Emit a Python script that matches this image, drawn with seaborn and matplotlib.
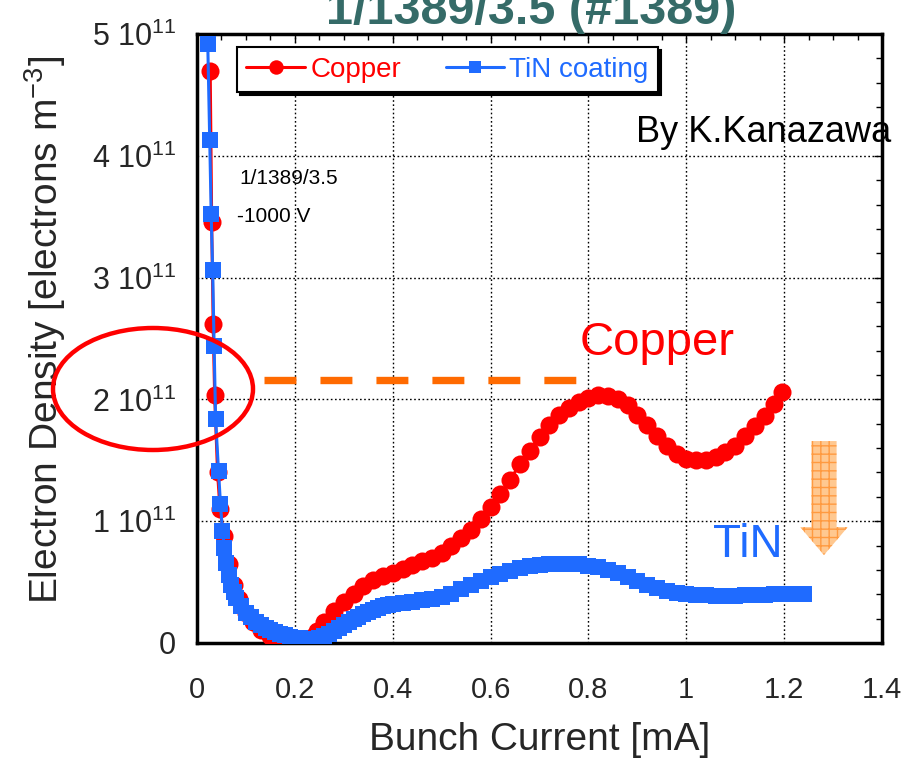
import matplotlib
matplotlib.use("Agg")
import matplotlib.pyplot as plt
import pandas as pd
import seaborn as sns
from matplotlib.patches import Ellipse, FancyArrow
from matplotlib.ticker import MultipleLocator

# ---- measured electron density vs bunch current (density in units of 1e11 m^-3) ----
copper_current = [0.027, 0.030, 0.033, 0.036, 0.042, 0.047, 0.055, 0.065, 0.075, 0.085,
                  0.100, 0.115, 0.130, 0.150, 0.170, 0.190, 0.210, 0.230, 0.245, 0.260,
                  0.280, 0.300, 0.320, 0.340, 0.360, 0.380, 0.400, 0.420, 0.440, 0.460,
                  0.480, 0.500, 0.520, 0.540, 0.560, 0.580, 0.600, 0.620, 0.640, 0.660,
                  0.680, 0.700, 0.720, 0.740, 0.760, 0.780, 0.800, 0.820, 0.840, 0.860,
                  0.880, 0.900, 0.920, 0.940, 0.960, 0.980, 1.000, 1.020, 1.040, 1.060,
                  1.080, 1.100, 1.120, 1.140, 1.160, 1.180, 1.195]
copper_density = [4.70, 3.46, 2.62, 2.04, 1.40, 1.10, 0.88, 0.65, 0.48, 0.36,
                  0.25, 0.17, 0.11, 0.06, 0.03, 0.02, 0.02, 0.04, 0.10, 0.17,
                  0.26, 0.34, 0.40, 0.47, 0.52, 0.55, 0.575, 0.61, 0.64, 0.67,
                  0.70, 0.74, 0.80, 0.86, 0.93, 1.02, 1.12, 1.22, 1.34, 1.47,
                  1.58, 1.69, 1.79, 1.87, 1.93, 1.98, 2.01, 2.04, 2.03, 2.00,
                  1.95, 1.87, 1.79, 1.70, 1.62, 1.55, 1.51, 1.50, 1.50, 1.53,
                  1.57, 1.62, 1.70, 1.78, 1.86, 1.96, 2.06]

tin_current = [0.022, 0.026, 0.029, 0.032, 0.035, 0.038, 0.044, 0.048, 0.052, 0.056,
               0.060, 0.065, 0.070, 0.075, 0.080, 0.090, 0.100, 0.110, 0.120, 0.130,
               0.140, 0.150, 0.160, 0.170, 0.180, 0.190, 0.200, 0.210, 0.220, 0.230,
               0.240, 0.250, 0.260, 0.270, 0.280, 0.290, 0.300, 0.310, 0.320, 0.330,
               0.340, 0.350, 0.360, 0.370, 0.380, 0.390, 0.400, 0.420, 0.440, 0.460,
               0.480, 0.500, 0.520, 0.540, 0.560, 0.580, 0.600, 0.620, 0.640, 0.660,
               0.680, 0.700, 0.720, 0.740, 0.760, 0.780, 0.800, 0.820, 0.840, 0.860,
               0.880, 0.900, 0.920, 0.940, 0.960, 0.980, 1.000, 1.020, 1.040, 1.060,
               1.080, 1.100, 1.120, 1.140, 1.160, 1.180, 1.200, 1.220, 1.240]
tin_density = [4.92, 4.13, 3.52, 3.06, 2.44, 1.84, 1.41, 1.14, 0.92, 0.78,
               0.66, 0.56, 0.48, 0.42, 0.37, 0.30, 0.25, 0.21, 0.175, 0.15,
               0.125, 0.105, 0.09, 0.075, 0.062, 0.052, 0.044, 0.038, 0.034, 0.033,
               0.035, 0.042, 0.055, 0.075, 0.10, 0.125, 0.15, 0.17, 0.195, 0.215,
               0.235, 0.255, 0.27, 0.285, 0.30, 0.31, 0.32, 0.33, 0.34, 0.35,
               0.365, 0.38, 0.405, 0.44, 0.475, 0.51, 0.54, 0.57, 0.595, 0.615,
               0.63, 0.64, 0.645, 0.65, 0.65, 0.645, 0.635, 0.62, 0.60, 0.575,
               0.545, 0.51, 0.48, 0.45, 0.425, 0.41, 0.40, 0.395, 0.39, 0.385,
               0.385, 0.385, 0.39, 0.39, 0.395, 0.40, 0.40, 0.40, 0.40]

x_ticks = [0, 0.2, 0.4, 0.6, 0.8, 1.0, 1.2, 1.4]
x_tick_labels = ["0", "0.2", "0.4", "0.6", "0.8", "1", "1.2", "1.4"]
y_ticks = [0, 1, 2, 3, 4, 5]
y_tick_labels = ["0", r"1 10$^{11}$", r"2 10$^{11}$", r"3 10$^{11}$",
                 r"4 10$^{11}$", r"5 10$^{11}$"]

RED = "#ff0000"
BLUE = "#1f6bff"
TEAL = "#356b68"
ORANGE = "#ff6a00"

sns.set_theme(style="white")
plt.rcParams["font.family"] = ["Liberation Sans", "DejaVu Sans"]
plt.rcParams["mathtext.fontset"] = "custom"
plt.rcParams["mathtext.rm"] = "Liberation Sans"
plt.rcParams["mathtext.it"] = "Liberation Sans:italic"
plt.rcParams["mathtext.bf"] = "Liberation Sans:bold"
plt.rcParams["hatch.linewidth"] = 1.0
plt.rcParams["lines.scale_dashes"] = False

fig = plt.figure(figsize=(9.14, 7.59), dpi=100, facecolor="white")
ax = fig.add_axes([197 / 914, 1 - 643 / 759, 685 / 914, 609 / 759])

df_cu = pd.DataFrame({"current": copper_current, "density": copper_density})
df_tin = pd.DataFrame({"current": tin_current, "density": tin_density})

sns.lineplot(data=df_cu, x="current", y="density", ax=ax, color=RED, linewidth=2.2,
             marker="o", sort=False, label="Copper", zorder=3)
sns.lineplot(data=df_tin, x="current", y="density", ax=ax, color=BLUE, linewidth=2.2,
             marker="s", sort=False, label="TiN coating", zorder=4)

# marker sizes: round copper beads, square TiN beads
for line, size in zip(ax.get_lines(), [13.0, 11.5]):
    line.set_markersize(size)
    line.set_markeredgewidth(0)

ax.set_xlim(0, 1.4)
ax.set_ylim(0, 5)
ax.set_xticks(x_ticks, labels=x_tick_labels)
ax.set_yticks(y_ticks, labels=y_tick_labels)
ax.xaxis.set_minor_locator(MultipleLocator(0.05))
ax.yaxis.set_minor_locator(MultipleLocator(0.2))
ax.tick_params(which="both", direction="in", top=True, right=True,
               color="black", width=1.0)
ax.tick_params(which="major", length=6)
ax.tick_params(which="minor", length=4)
ax.tick_params(axis="x", which="major", labelsize=21, pad=24)
ax.tick_params(axis="y", which="major", labelsize=22, pad=15)
for sp in ax.spines.values():
    sp.set_linewidth(2.5)
    sp.set_color("black")
ax.grid(True, which="major", color="black", linestyle=(0, (1.2, 1.8)), linewidth=1.0)
ax.set_axisbelow(True)

ax.set_xlabel("Bunch Current [mA]", fontsize=28)
ax.set_ylabel(r"Electron Density [electrons m$^{-3}$]", fontsize=28)
ax.xaxis.label.set_va("center")
ax.yaxis.label.set_va("center")
ax.xaxis.set_label_coords(0.5, (643 - 740) / 609)
ax.yaxis.set_label_coords((45 - 197) / 685, (643 - 330) / 609)

# legend with a solid black drop shadow
leg = ax.legend(loc="upper left", bbox_to_anchor=(0.058, 0.979), ncol=2,
                fontsize=20, frameon=True, fancybox=False, edgecolor="black",
                framealpha=1, handlelength=2.1, handletextpad=0.2,
                columnspacing=1.6, borderpad=0.35, borderaxespad=0,
                markerscale=0.8, shadow={"color": "black", "alpha": 1})
leg.get_frame().set_linewidth(1.5)
for txt, col in zip(leg.get_texts(), [RED, BLUE]):
    txt.set_color(col)

# run parameters
ax.text((239 - 197) / 685, (643 - 178) / 609, "1/1389/3.5", transform=ax.transAxes,
        fontsize=15, va="center", ha="left", color="black")
ax.text((237 - 197) / 685, (643 - 216) / 609, "-1000 V", transform=ax.transAxes,
        fontsize=15, va="center", ha="left", color="black")

ax.text((636 - 197) / 685, (643 - 132) / 609, "By K.Kanazawa", transform=ax.transAxes,
        fontsize=26, va="center", ha="left", color="black", clip_on=False)
ax.text((580 - 197) / 685, (643 - 343) / 609, "Copper", transform=ax.transAxes,
        fontsize=34, va="center", ha="left", color=RED)
ax.text((713 - 197) / 685, (643 - 545) / 609, "TiN", transform=ax.transAxes,
        fontsize=33, va="center", ha="left", color=BLUE)

# dashed reference level of the copper peak
ax.plot([0.137, 0.775], [2.16, 2.16], color=ORANGE, linewidth=5.3,
        linestyle=(0, (23.0, 17.3)), solid_capstyle="butt", dash_capstyle="butt",
        zorder=5)

# downward arrow towards the TiN level
arrow = FancyArrow(1.2814, 1.658, 0, -0.936, width=0.0511, head_width=0.0973,
                   head_length=0.23, length_includes_head=True,
                   facecolor="#ffc890", edgecolor="#ff9a40", hatch="++",
                   linewidth=0, zorder=5)
ax.add_patch(arrow)

# highlight ellipse around the 2e11 level
ell = Ellipse((153 / 914, 1 - 389 / 759), 200 / 914, 122 / 759,
              transform=fig.transFigure, fill=False, edgecolor=RED,
              linewidth=3.2, zorder=10)
fig.add_artist(ell)

fig.text(531 / 914, 1 - 24 / 759, "1/1389/3.5 (#1389)", fontsize=35,
         fontweight="bold", color=TEAL, ha="center", va="baseline")

fig.savefig("out.png", dpi=100, facecolor="white")
